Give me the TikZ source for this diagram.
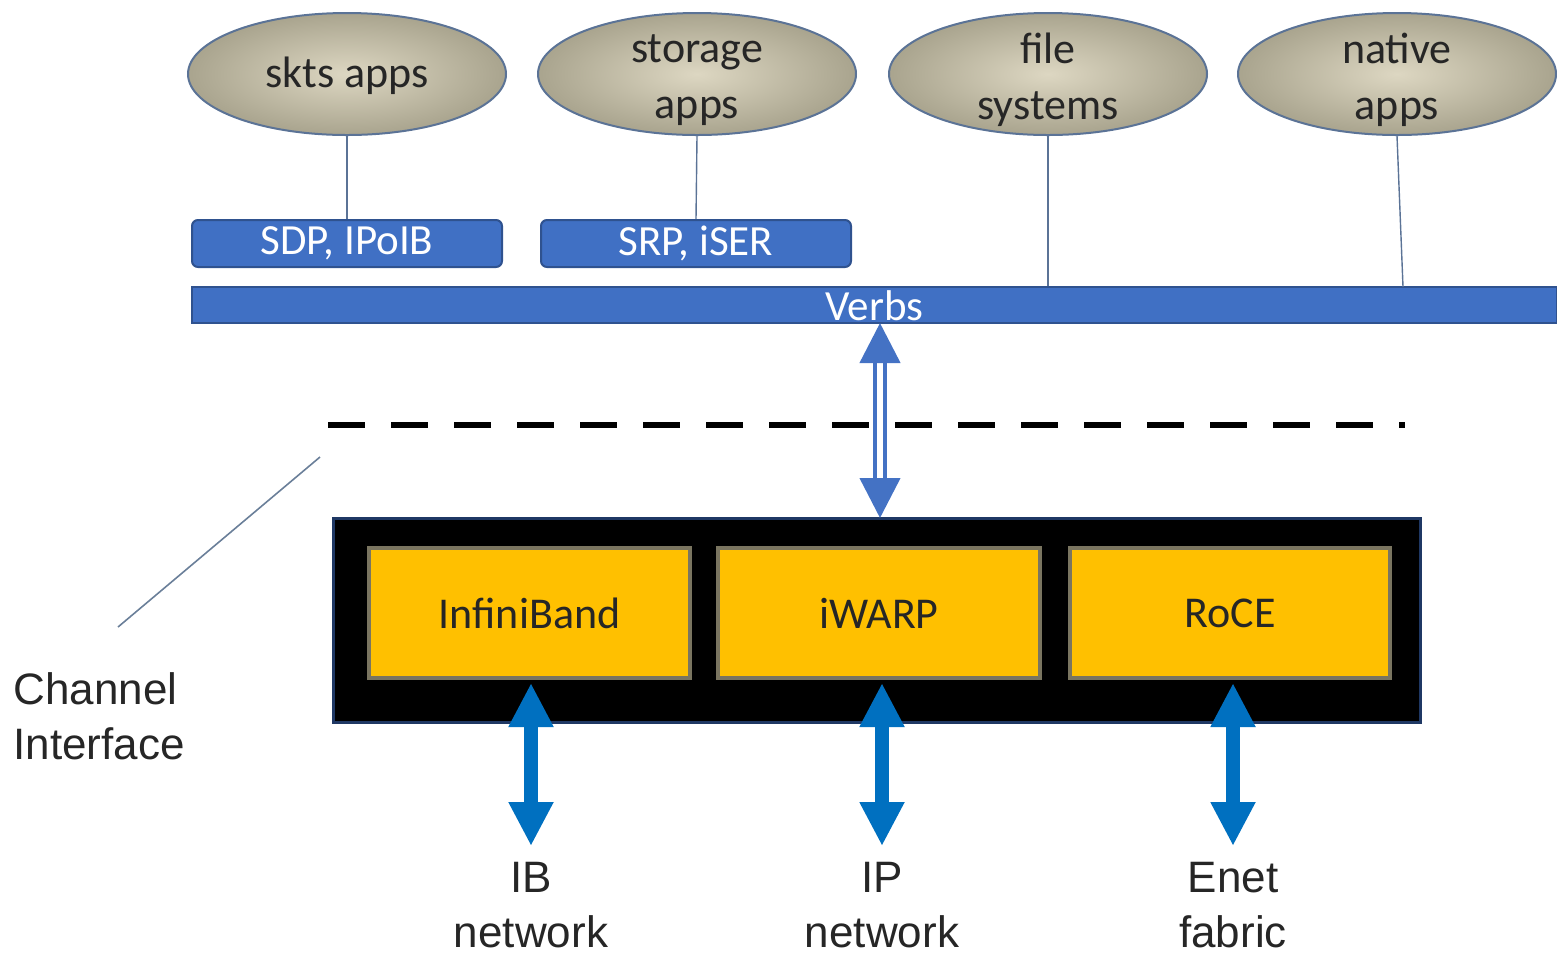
\documentclass[tikz,border=0pt]{standalone}
\usepackage{fontspec}
\setmainfont{Carlito}
\newfontfamily\carl{Carlito}
\newfontfamily\arl{Liberation Sans}
\usetikzlibrary{shapes.geometric,arrows.meta}
\definecolor{ellfillin}{HTML}{DDD7C2}
\definecolor{ellfillout}{HTML}{A9A48E}
\definecolor{ellborder}{HTML}{5B7396}
\definecolor{boxblue}{HTML}{4070C4}
\definecolor{boxblueborder}{HTML}{2F528F}
\definecolor{arrblue}{HTML}{4472C4}
\definecolor{netblue}{HTML}{0070C0}
\definecolor{ygold}{HTML}{FFC000}
\definecolor{yborder}{HTML}{7A7560}
\definecolor{navy}{HTML}{1F3864}
\definecolor{linegrey}{HTML}{6A7F99}
\tikzset{
  app/.style={ellipse, draw=ellborder, line width=1pt, inner color=ellfillin, outer color=ellfillout,
    minimum width=159pt, minimum height=61pt, inner sep=0pt},
  apptext/.style={align=center, inner sep=0pt,
    font=\carl\fontsize{22}{28}\selectfont, text=black!85},
  proto/.style={rectangle, rounded corners=3pt, draw=boxblueborder, line width=1pt, fill=boxblue,
    minimum width=155pt, minimum height=23.5pt, inner sep=0pt, text=white,
    font=\carl\fontsize{21.5}{26}\selectfont},
  verbsbar/.style={rectangle, draw=boxblueborder, line width=1pt, fill=boxblue,
    minimum width=682.5pt, minimum height=18pt, inner sep=0pt, text height=15pt, text depth=0pt,
    text=white, font=\carl\fontsize{21.5}{26}\selectfont},
  chbox/.style={rectangle, draw=navy, line width=1.5pt, fill=black,
    minimum width=543.5pt, minimum height=102pt, inner sep=0pt},
  transport/.style={rectangle, draw=yborder, line width=2pt, fill=ygold,
    minimum height=65pt, inner sep=0pt, text=black!85,
    font=\carl\fontsize{22}{26}\selectfont},
  conn/.style={draw=ellborder, line width=0.7pt},
  dblarrow/.style={draw=arrblue, line width=2.2pt, double=white, double distance=2.6pt,
    {Triangle[width=20pt,length=20pt]}-{Triangle[width=20pt,length=20pt]}},
  netarrow/.style={draw=netblue, line width=7pt,
    {Triangle[width=21pt,length=22pt]}-{Triangle[width=21pt,length=22pt]},
    shorten <=8pt, shorten >=1.5pt},
  netlabel/.style={align=center, inner sep=0pt, font=\arl\fontsize{22}{27.5}\selectfont, text=black!85},
}
\begin{document}
\begin{tikzpicture}[x=0.5pt,y=-0.5pt]
\useasboundingbox (0,0) rectangle (1557,955);
% applications
\node[app] (e1) at (347,74) {};
\node[app] (e2) at (697,74) {};
\node[app] (e3) at (1048,74) {};
\node[app] (e4) at (1397,74) {};
\node[apptext] (t1) at ([yshift=-1pt]e1.center) {skts apps};
\node[apptext] (t2) at ([yshift=-3pt]e2.center) {storage\\apps};
\node[apptext] (t3) at ([yshift=-3pt]e3.center) {file\\systems};
\node[apptext] (t4) at ([yshift=-3pt]e4.center) {native\\apps};
% protocol boxes
\node[proto] (sdp) at (347,243.5) {SDP, IPoIB};
\node[proto] (srp) at (696,243.5) {SRP, iSER};
% verbs
\node[verbsbar] (verbs) at (874.5,305) {Verbs};
\coordinate (v4) at (1403,287);
% connectors from apps
\draw[conn] (e1.south) -- (sdp.north);
\draw[conn] (e2.south) -- (srp.north);
\draw[conn] (e3.south) -- (e3.south |- verbs.north);
\draw[conn] (e4.south) -- (v4);
% channel interface box
\node[chbox] (ci) at (876.5,620) {};
\node[transport, minimum width=160.5pt] (ib) at (529.5,613) {InfiniBand};
\node[transport, minimum width=161pt] (iwarp) at (879,613) {iWARP};
\node[transport, minimum width=160pt] (roce) at (1230,613) {RoCE};
% double arrow verbs <-> channel box
\coordinate (dtop) at (880,323);
\coordinate (dbot) at (880,518);
\draw[dblarrow] (dtop) -- (dbot);
% dashed line
\coordinate (d1) at (328,425);
\coordinate (d2) at (1405,425);
\draw[black, line width=3pt, dash pattern=on 18.5pt off 13pt] (d1) -- (d2);
% channel interface label
\coordinate (c1) at (320,457);
\coordinate (c2) at (118,627);
\draw[linegrey, line width=0.8pt] (c1) -- (c2);
\node[netlabel, align=left, anchor=north west] (chl) at (13,672) {Channel\\Interface};
% network labels
\node[netlabel, anchor=north] (ibl) at (531,862) {IB\\network};
\node[netlabel, anchor=north] (ipl) at (882,862) {IP\\network};
\node[netlabel, anchor=north] (enl) at (1233,862) {Enet\\fabric};
\draw[netarrow] (ibl.north) -- (ibl.north |- ib.south);
\draw[netarrow] (ipl.north) -- (ipl.north |- iwarp.south);
\draw[netarrow] (enl.north) -- (enl.north |- roce.south);
\end{tikzpicture}
\end{document}
